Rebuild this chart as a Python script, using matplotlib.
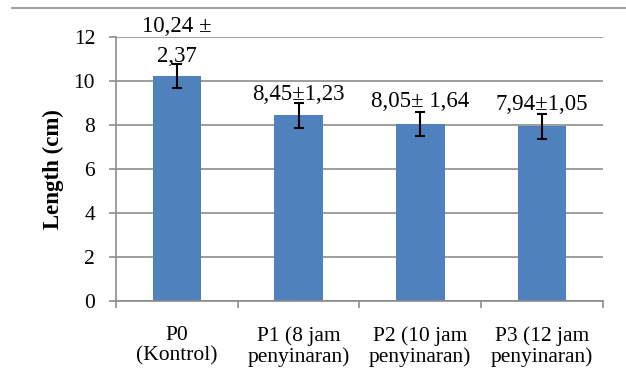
import numpy as np
import matplotlib.pyplot as plt
from matplotlib.ticker import FixedLocator

plt.rcParams['font.family'] = ['Liberation Serif', 'DejaVu Serif']

categories = ["P0\n(Kontrol)", "P1 (8 jam\npenyinaran)", "P2 (10 jam\npenyinaran)", "P3 (12 jam\npenyinaran)"]
lengths = [10.24, 8.45, 8.05, 7.94]
errors = [0.55, 0.57, 0.55, 0.56]
annotations = ["10,24 \u00b1\n2,37", "8,45\u00b11,23", "8,05\u00b1 1,64", "7,94\u00b11,05"]

fig = plt.figure(figsize=(6.26, 3.83), dpi=100)
ax = fig.add_axes([0.1853, 0.2141, 0.963 - 0.1853, 0.9034 - 0.2141])

x = np.arange(len(categories))
ax.bar(x, lengths, width=0.4, color='#4F81BD', zorder=2)
ax.errorbar(x, lengths, yerr=errors, fmt='none', ecolor='black', elinewidth=1.5,
            capsize=3.6, capthick=1.5, zorder=3)

# value labels above the bars (baseline of the last line, in data units)
label_base = [10.86, 9.14, 8.82, 8.68]
line_step = 1.36
for xi, yb, txt in zip(x, label_base, annotations):
    lines = txt.split("\n")
    for k, line in enumerate(reversed(lines)):
        ax.text(xi, yb + k * line_step, line, ha='center', va='baseline',
                fontsize=16.5, clip_on=False)

ax.set_xlim(-0.5, len(categories) - 0.5)
ax.set_ylim(0, 12)
ax.set_yticks(np.arange(0, 13, 2))
ax.set_xticks(x)
ax.set_xticklabels(categories, fontsize=15.5, linespacing=1.08)
ax.xaxis.set_minor_locator(FixedLocator(np.arange(-0.5, len(categories), 1)))
ax.tick_params(axis='x', which='major', length=0, pad=18)
ax.tick_params(axis='x', which='minor', length=5, color='#8c8c8c', width=1.2)
ax.tick_params(axis='y', labelsize=15.5, length=5, color='#8c8c8c', width=1.2, pad=10)

ax.yaxis.grid(True, color='#8c8c8c', linewidth=1.2, zorder=0)
ax.set_axisbelow(True)
for side in ['top', 'right']:
    ax.spines[side].set_visible(False)
for side in ['left', 'bottom']:
    ax.spines[side].set_color('#8c8c8c')
    ax.spines[side].set_linewidth(1.2)

ax.set_ylabel("Length (cm)", fontsize=16.5, fontweight='bold', labelpad=7)

# rule at top of the cropped figure
fig.add_artist(plt.Line2D([12 / 626, 1.0], [1 - 7.5 / 383, 1 - 7.5 / 383],
                          color='#8c8c8c', linewidth=1.2))

plt.savefig("out.png", dpi=100)
